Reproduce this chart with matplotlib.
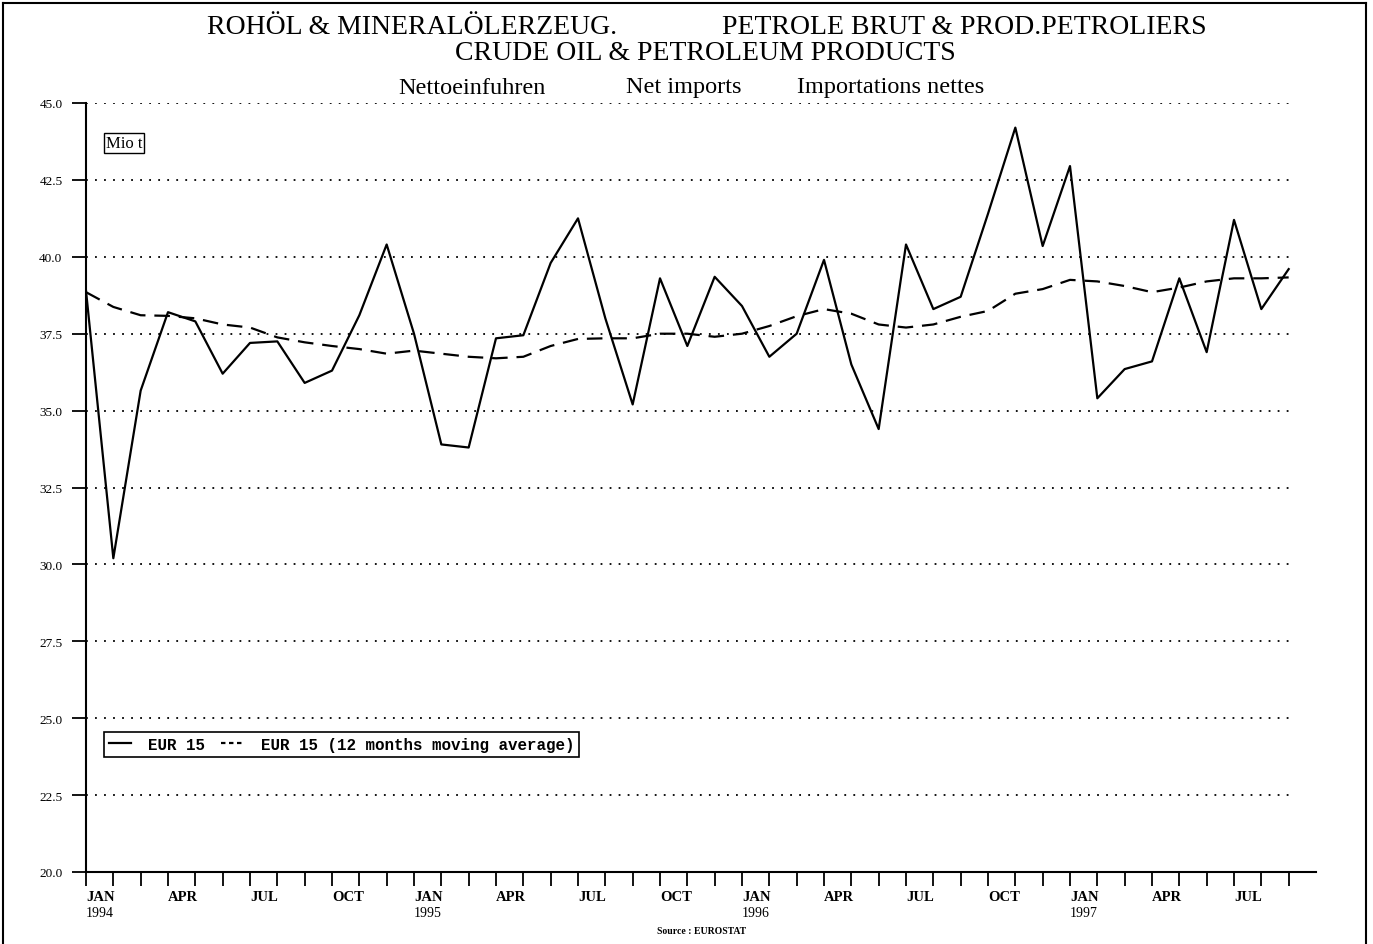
import matplotlib
matplotlib.use('Agg')
import matplotlib.pyplot as plt
from matplotlib.lines import Line2D
from matplotlib.transforms import blended_transform_factory

# monthly net imports, Mio t, JAN 1994 .. SEP 1997
net_imports = [38.9, 30.2, 35.65, 38.2, 37.9, 36.2, 37.2, 37.25, 35.9, 36.3,
               38.1, 40.4, 37.5, 33.9, 33.8, 37.35, 37.45, 39.8, 41.25, 38.0,
               35.2, 39.3, 37.1, 39.35, 38.4, 36.75, 37.5, 39.9, 36.5, 34.4,
               40.4, 38.3, 38.7, 41.4, 44.2, 40.35, 42.95, 35.4, 36.35, 36.6,
               39.3, 36.9, 41.2, 38.3, 39.6]
moving_avg = [38.85, 38.37, 38.1, 38.08, 38.0, 37.8, 37.7, 37.38, 37.22, 37.1,
              37.0, 36.85, 36.95, 36.85, 36.75, 36.7, 36.75, 37.1, 37.33, 37.35,
              37.35, 37.5, 37.5, 37.4, 37.5, 37.75, 38.07, 38.3, 38.15, 37.8,
              37.7, 37.8, 38.05, 38.24, 38.8, 38.95, 39.25, 39.2, 39.05, 38.85,
              39.0, 39.2, 39.3, 39.3, 39.33]

quarter_pos = [0, 3, 6, 9, 12, 15, 18, 21, 24, 27, 30, 33, 36, 39, 42]
quarter_names = ['JAN', 'APR', 'JUL', 'OCT'] * 3 + ['JAN', 'APR', 'JUL']
year_pos = [0, 12, 24, 36]
year_names = ['1994', '1995', '1996', '1997']
yticks = [20.0, 22.5, 25.0, 27.5, 30.0, 32.5, 35.0, 37.5, 40.0, 42.5, 45.0]

W, H = 1373, 945
serif = 'Liberation Serif'

fig = plt.figure(figsize=(W / 100, H / 100), dpi=100)
ax = fig.add_axes([86 / W, 1 - 873 / H, 1230 / W, 769 / H])

x = list(range(len(net_imports)))
ax.plot(x, net_imports, color='black', lw=1.6, label='EUR 15', zorder=3)
ax.plot(x, moving_avg, color='black', lw=1.6, dashes=(7, 4),
        label='EUR 15 (12 months moving average)', zorder=3)

ax.set_xlim(0, 45)
ax.set_ylim(20, 45)

# dotted grid, ends at last month
for v in yticks[1:]:
    ax.axhline(v, xmin=0, xmax=44.1 / 45, color='black', lw=1.3,
               ls=(0, (1, 4)), zorder=1)

for s in ['top', 'right']:
    ax.spines[s].set_visible(False)
for s in ['left', 'bottom']:
    ax.spines[s].set_linewidth(1.5)

ax.set_yticks(yticks)
ax.set_yticklabels([f'{v:.1f}' for v in yticks], fontsize=9.5, family=serif)
ax.tick_params(axis='y', direction='out', length=10, width=1.3, pad=7)
ax.set_xticks(x)
ax.set_xticklabels([])
ax.tick_params(axis='x', direction='out', length=10, width=1.3)

trans = blended_transform_factory(ax.transData, fig.transFigure)
for p, name in zip(quarter_pos, quarter_names):
    ax.text(p, 1 - 898 / H, name, transform=trans, ha='left', va='center',
            fontsize=10.5, fontweight='bold', family=serif)
for p, name in zip(year_pos, year_names):
    ax.text(p, 1 - 914 / H, name, transform=trans, ha='left', va='center',
            fontsize=10, family=serif)

# titles
fig.text(207 / W, 1 - 28 / H, 'ROHÖL & MINERALÖLERZEUG.', ha='left', va='center',
         fontsize=20, family=serif)
fig.text(1207 / W, 1 - 28 / H, 'PETROLE BRUT & PROD.PETROLIERS', ha='right',
         va='center', fontsize=20, family=serif)
fig.text(705 / W, 1 - 53 / H, 'CRUDE OIL & PETROLEUM PRODUCTS', ha='center',
         va='center', fontsize=20, family=serif)
for xp, t in zip([398, 626, 797], ['Nettoeinfuhren', 'Net imports', 'Importations nettes']):
    fig.text(xp / W, 1 - 88 / H, t, ha='left', va='center', fontsize=17.5, family=serif)

fig.text(124 / W, 1 - 144 / H, 'Mio t', ha='center', va='center', fontsize=12,
         family=serif, bbox=dict(boxstyle='square,pad=0.12', fc='white', ec='black', lw=1))

leg = ax.legend(loc='upper left', bbox_to_anchor=(18 / 1230, 140 / 769), ncol=2,
                prop={'family': 'Liberation Mono', 'size': 11.4, 'weight': 'bold'},
                frameon=True, fancybox=False, edgecolor='black', framealpha=1,
                handlelength=1.4, handletextpad=1.1, columnspacing=1.0,
                borderpad=0.3, borderaxespad=0)
leg.get_frame().set_linewidth(1.2)
leg.legend_handles[1].set_dashes([2, 1.6])

fig.text(702 / W, 1 - 932 / H, 'Source : EUROSTAT', ha='center', va='center',
         fontsize=7, fontweight='bold', family=serif)

# page border
for xs, ys in [([3 / W, 3 / W], [0, 1 - 4 / H]),
               ([3 / W, 1366 / W], [1 - 4 / H, 1 - 4 / H]),
               ([1366 / W, 1366 / W], [0, 1 - 4 / H])]:
    fig.add_artist(Line2D(xs, ys, transform=fig.transFigure, color='black', lw=1.5))

fig.savefig('out.png', dpi=100)
